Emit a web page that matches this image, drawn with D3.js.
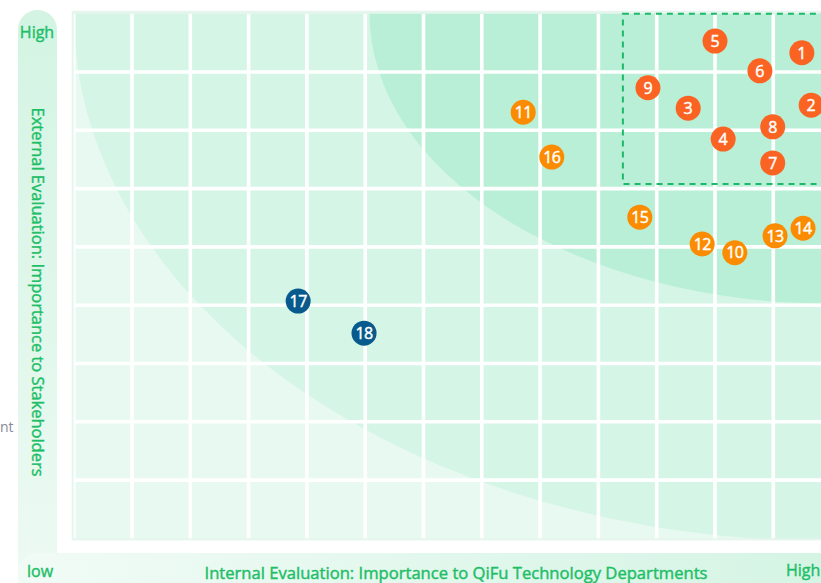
<!DOCTYPE html>
<html><head><meta charset="utf-8">
<script src="https://cdn.jsdelivr.net/npm/d3@7"></script>
<style>
html,body{margin:0;padding:0;background:#fff;}
svg{display:block;font-family:"Open Sans","Noto Sans",sans-serif;}
</style></head>
<body><svg id="chart" width="821" height="583"></svg>
<script>
// ---- data ----
const labels   = ["1","2","3","4","5","6","7","8","9","10","11","12","13","14","15","16","17","18"];
const internal = [12.49,12.65,10.54,11.14,11.0,11.77,11.99,11.99,9.85,11.34,7.71,10.78,12.03,12.51,9.71,8.20,3.85,4.98];
const external = [8.33,7.43,7.38,6.85,8.53,8.02,6.44,7.06,7.73,4.90,7.31,5.05,5.19,5.32,5.51,6.54,4.07,3.52];
const groups   = ["a","a","a","a","a","a","a","a","a","b","b","b","b","b","b","b","c","c"];
const groupColors = {a:"#FA6322", b:"#FB8B00", c:"#075A8B"};
const xTitle = "Internal Evaluation: Importance to QiFu Technology Departments";
const yTitle = "External Evaluation: Importance to Stakeholders";
const lowLabel = "low", highLabel = "High";
const xDomain = [0, 13], yDomain = [0, 9];
const focusBox = {x0: 9.42, x1: 13.3, y0: 6.08, y1: 9};

const svg = d3.select("#chart");
const x = d3.scaleLinear().domain(xDomain).range([73.7, 831.6]);
const y = d3.scaleLinear().domain(yDomain).range([538.4, 13.7]);
const green = "#20BE66";

const defs = svg.append("defs");
const gv = defs.append("linearGradient").attr("id","gv").attr("x1",0).attr("y1",0).attr("x2",0).attr("y2",1);
gv.append("stop").attr("offset","0%").attr("stop-color","#D3F4E3");
gv.append("stop").attr("offset","100%").attr("stop-color","#EEFAF4");
const gh = defs.append("linearGradient").attr("id","gh").attr("x1",0).attr("y1",0).attr("x2",1).attr("y2",0);
gh.append("stop").attr("offset","0%").attr("stop-color","#F1FBF6");
gh.append("stop").attr("offset","100%").attr("stop-color","#D3F4E3");
defs.append("clipPath").attr("id","plotclip").append("rect")
  .attr("x", x(0)).attr("y", y(9)).attr("width", x(13)-x(0)).attr("height", y(0)-y(9));

// side bands
svg.append("rect").attr("x",18).attr("y",10).attr("width",39).attr("height",600).attr("rx",19.5).attr("fill","url(#gv)");
svg.append("rect").attr("x",18).attr("y",553).attr("width",850).attr("height",60).attr("rx",19).attr("fill","url(#gh)");

// plot background
svg.append("rect").attr("x", x(0)-2).attr("y", y(9)-3).attr("width", x(13)-x(0)+4).attr("height", y(0)-y(9)+5).attr("fill","#E6F6EE");
const pg = svg.append("g").attr("clip-path","url(#plotclip)");
pg.append("rect").attr("x", x(0)).attr("y", y(9)).attr("width", x(13)-x(0)).attr("height", y(0)-y(9)).attr("fill","#E8F9F1");
pg.append("ellipse").attr("cx", x(13)).attr("cy", y(9)).attr("rx", x(13)-x(0)).attr("ry", y(0)-y(9)+3).attr("fill","#D5F5E6");
pg.append("ellipse").attr("cx", x(13)).attr("cy", y(9)).attr("rx", 462).attr("ry", 290).attr("fill","#B9EFD6");

// grid
const xt = d3.range(0, 14), yt = d3.range(1, 9);
pg.selectAll("line.vx").data(xt).join("line").attr("class","vx")
  .attr("x1", d=>x(d)).attr("x2", d=>x(d)).attr("y1", y(9)).attr("y2", y(0))
  .attr("stroke","#fff").attr("stroke-width",3.6);
pg.selectAll("line.hy").data(yt).join("line").attr("class","hy")
  .attr("y1", d=>y(d)).attr("y2", d=>y(d)).attr("x1", x(0)).attr("x2", x(13))
  .attr("stroke","#fff").attr("stroke-width",3.6);

// focus box
svg.append("rect").attr("x", x(focusBox.x0)).attr("y", y(focusBox.y1)).attr("width", x(focusBox.x1)-x(focusBox.x0)).attr("height", y(focusBox.y0)-y(focusBox.y1))
  .attr("fill","none").attr("stroke","#1DB86A").attr("stroke-width",2).attr("stroke-dasharray","6,5");

// points
const pts = labels.map((l,i)=>({l, x:internal[i], y:external[i], g:groups[i]}));
const pgp = svg.append("g").selectAll("g").data(pts).join("g").attr("transform", d=>`translate(${x(d.x)},${y(d.y)})`);
pgp.append("circle").attr("r",12.5).attr("fill", d=>groupColors[d.g]);
pgp.append("text").text(d=>d.l).attr("text-anchor","middle").attr("dy","0.36em")
  .attr("fill","#fff").attr("stroke","#fff").attr("stroke-width",0.45).attr("font-size",16)
  .attr("letter-spacing", d=>d.l.length>1 ? "-0.6px" : null);

// labels
const lab = (sel)=>sel.attr("fill",green).attr("stroke",green).attr("stroke-width",0.4);
lab(svg.append("text").attr("x",37).attr("y",38).attr("text-anchor","middle").attr("font-size",16).text(highLabel));
lab(svg.append("text").attr("transform","translate(37,292) rotate(90)").attr("text-anchor","middle").attr("dy","0.35em")
  .attr("font-size",15.5).attr("textLength",369).attr("lengthAdjust","spacingAndGlyphs").text(yTitle));
lab(svg.append("text").attr("x",27).attr("y",577).attr("font-size",16).text(lowLabel));
lab(svg.append("text").attr("x",456).attr("y",579).attr("text-anchor","middle").attr("font-size",15.5)
  .attr("textLength",503).attr("lengthAdjust","spacingAndGlyphs").text(xTitle));
lab(svg.append("text").attr("x",786).attr("y",576).attr("font-size",16).text(highLabel));
svg.append("text").attr("x",0).attr("y",432).attr("fill","#8A8A98").attr("font-size",14).text("nt");
</script></body></html>
